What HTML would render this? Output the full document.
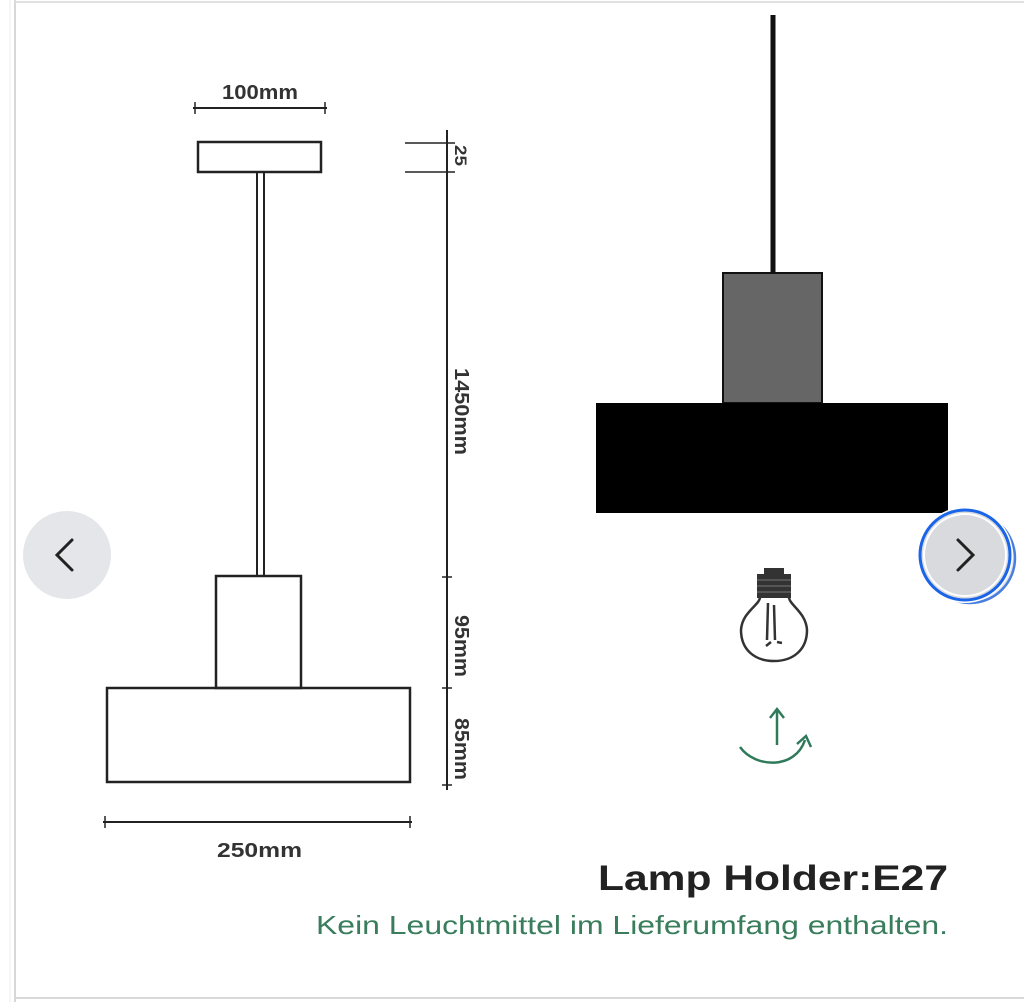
<!DOCTYPE html>
<html><head><meta charset="utf-8"><style>
html,body{margin:0;padding:0;background:#fff;width:1024px;height:1002px;overflow:hidden}
svg{display:block}
text{font-family:"Liberation Sans",Arial,sans-serif}
</style></head><body>
<svg width="1024" height="1002" viewBox="0 0 1024 1002" xmlns="http://www.w3.org/2000/svg">
<rect x="0" y="0" width="1024" height="1002" fill="#fff"/>
<line x1="15" y1="0" x2="15" y2="1002" stroke="#d8d8d8" stroke-width="2"/>
<line x1="10" y1="0" x2="10" y2="1002" stroke="#eee" stroke-width="1"/>
<line x1="15" y1="2" x2="1024" y2="2" stroke="#e0e0e0" stroke-width="2"/>
<line x1="15" y1="998" x2="1024" y2="998" stroke="#d8d8d8" stroke-width="2"/>

<g stroke="#222" fill="none">
<line x1="193" y1="108" x2="327" y2="108" stroke-width="2"/>
<line x1="195" y1="102" x2="195" y2="114" stroke-width="1.5"/>
<line x1="325" y1="102" x2="325" y2="114" stroke-width="1.5"/>
<rect x="198" y="142" width="123" height="30" stroke-width="2.5"/>
<line x1="257" y1="172" x2="257" y2="576" stroke-width="2"/>
<line x1="264" y1="172" x2="264" y2="576" stroke-width="2"/>
<rect x="216" y="576" width="85" height="112" stroke-width="2.5"/>
<rect x="107" y="688" width="303" height="94" stroke-width="2.5"/>
<line x1="103" y1="822" x2="412" y2="822" stroke-width="2"/>
<line x1="105" y1="816" x2="105" y2="828" stroke-width="1.5"/>
<line x1="410" y1="816" x2="410" y2="828" stroke-width="1.5"/>
<line x1="447" y1="130" x2="447" y2="790" stroke-width="2"/>
<line x1="405" y1="143" x2="455" y2="143" stroke-width="1.5"/>
<line x1="405" y1="172" x2="455" y2="172" stroke-width="1.5"/>
<line x1="442" y1="577" x2="452" y2="577" stroke-width="1.5"/>
<line x1="442" y1="688" x2="452" y2="688" stroke-width="1.5"/>
<line x1="442" y1="785" x2="452" y2="785" stroke-width="1.5"/>
</g>
<g fill="#333" font-size="20" font-weight="bold">
<text x="222" y="99" textLength="76" lengthAdjust="spacingAndGlyphs">100mm</text>
<text x="217" y="857" textLength="85" lengthAdjust="spacingAndGlyphs">250mm</text>
<text transform="translate(455,145) rotate(90)" font-size="17" textLength="21" lengthAdjust="spacingAndGlyphs">25</text>
<text transform="translate(455,368) rotate(90)" textLength="87" lengthAdjust="spacingAndGlyphs">1450mm</text>
<text transform="translate(455,615) rotate(90)" textLength="62" lengthAdjust="spacingAndGlyphs">95mm</text>
<text transform="translate(455,718) rotate(90)" textLength="62" lengthAdjust="spacingAndGlyphs">85mm</text>
</g>

<line x1="773" y1="15" x2="773" y2="274" stroke="#111" stroke-width="5"/>
<rect x="723" y="273" width="99" height="130" fill="#666" stroke="#111" stroke-width="2"/>
<rect x="596" y="403" width="352" height="110" fill="#000"/>

<g stroke="#333" fill="none" stroke-width="2.5">
<path d="M760 597 C 760 605 742 612 741 630 C 741 650 755 661 774 661 C 793 661 807 650 807 630 C 806 612 789 605 789 597"/>
<path d="M768 603 L767 640 M774 605 L775 640 M771 642 L766 646 M777 642 L782 643"/>
</g>
<rect x="757" y="574" width="34" height="24" fill="#333"/>
<rect x="764" y="568" width="20" height="7" fill="#333"/>
<g stroke="#777" stroke-width="1"><line x1="757" y1="580" x2="791" y2="580"/><line x1="757" y1="586" x2="791" y2="586"/><line x1="757" y1="592" x2="791" y2="592"/></g>

<g stroke="#2f7a5a" fill="none" stroke-width="2.5">
<line x1="777" y1="710" x2="777" y2="745"/>
<path d="M770 718 L777 709 L784 718"/>
<path d="M740 747 C 755 768 795 770 805 740"/>
<path d="M797 744 L806 736 L811 747"/>
</g>

<text x="598" y="890" font-size="35" font-weight="bold" fill="#222" textLength="350" lengthAdjust="spacingAndGlyphs">Lamp Holder:E27</text>
<text x="316" y="934" font-size="26" fill="#3a7d5c" textLength="632" lengthAdjust="spacingAndGlyphs">Kein Leuchtmittel im Lieferumfang enthalten.</text>

<circle cx="67" cy="555" r="44" fill="#e4e6ea"/>
<path d="M72 540 L57 555 L72 570" stroke="#222" stroke-width="3" fill="none" stroke-linecap="round"/>
<circle cx="970" cy="558" r="45" fill="#e2e4e8" stroke="#4a7de0" stroke-width="2.5"/>
<circle cx="965" cy="555" r="48" fill="#fff"/>
<circle cx="965" cy="555" r="45" fill="#d8dade" stroke="#1a64e8" stroke-width="3"/>
<circle cx="965" cy="555" r="41" fill="none" stroke="#fff" stroke-width="2"/>
<path d="M958 540 L973 555 L958 570" stroke="#222" stroke-width="3" fill="none" stroke-linecap="round"/>
</svg>
</body></html>
